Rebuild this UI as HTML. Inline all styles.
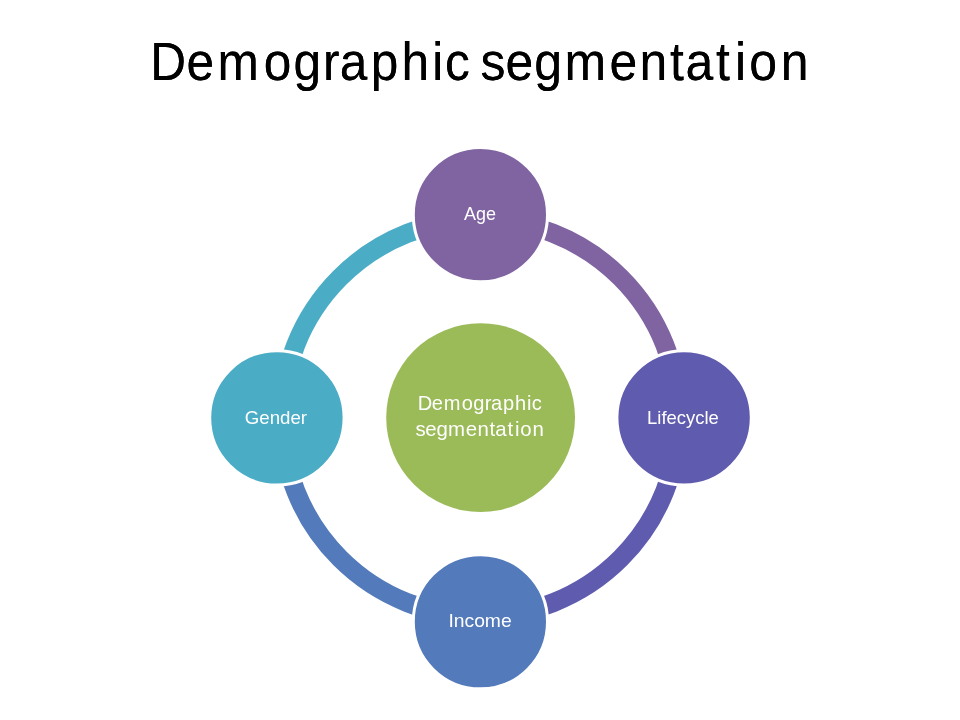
<!DOCTYPE html>
<html>
<head>
<meta charset="utf-8">
<title>Demographic segmentation</title>
<style>
html,body{margin:0;padding:0;background:#fff;}
body{width:960px;height:720px;overflow:hidden;font-family:"Liberation Sans",sans-serif;}
svg{display:block;position:absolute;left:0;top:0;}
text{font-family:"Liberation Sans",sans-serif;}
</style>
</head>
<body>
<svg width="960" height="720" viewBox="0 0 960 720">
  <rect width="960" height="720" fill="#ffffff"/>
  <!-- ring arcs (quarter each), drawn as thick strokes -->
  <g fill="none" stroke-width="19">
    <path d="M480.3 219.5 A198.5 198.5 0 0 1 678.8 418" stroke="#8064A2"/>
    <path d="M678.8 418 A198.5 198.5 0 0 1 480.3 616.5" stroke="#5F5BAE"/>
    <path d="M480.3 616.5 A198.5 198.5 0 0 1 281.8 418" stroke="#537ABA"/>
    <path d="M281.8 418 A198.5 198.5 0 0 1 480.3 219.5" stroke="#4BACC6"/>
  </g>
  <!-- nodes -->
  <g stroke="#ffffff" stroke-width="3">
    <circle cx="480.4" cy="214.7" r="67.1" fill="#8064A2"/>
    <circle cx="684.1" cy="417.85" r="67.2" fill="#5F5BAE"/>
    <circle cx="480.4" cy="621.75" r="67.1" fill="#537ABA"/>
    <circle cx="276.9" cy="417.85" r="67.2" fill="#4BACC6"/>
  </g>
  <circle cx="480.6" cy="417.6" r="94.4" fill="#9BBB59"/>
</svg>
<svg id="labels" width="960" height="720" viewBox="0 0 960 720" style="will-change:transform">
  <defs>
    <filter id="hb" x="-2%" y="-20%" width="104%" height="140%" color-interpolation-filters="sRGB">
      <feOffset in="SourceGraphic" dx="0.5" dy="0" result="a"/>
      <feOffset in="SourceGraphic" dx="-0.5" dy="0" result="b"/>
      <feMerge><feMergeNode in="a"/><feMergeNode in="b"/></feMerge>
    </filter>
  </defs>
  <text transform="scale(0.9251,1)" x="162.37 201.68 235.13 285.08 317.30 349.18 367.18 400.69 434.09 467.20 481.06" y="80.05" font-size="53.6" fill="#000000" filter="url(#hb)">Demographic</text>
  <text transform="scale(0.9321,1)" x="515.61 542.42 573.30 605.72 653.81 686.06 718.94 735.36 768.29 788.65 803.93 837.61" y="80.05" font-size="53.6" fill="#000000" filter="url(#hb)">segmentation</text>
  <text x="464.10" y="219.70" font-size="18.6" fill="#ffffff" textLength="32.00" lengthAdjust="spacingAndGlyphs">Age</text>
  <text x="647.05" y="423.60" font-size="18.6" fill="#ffffff" textLength="71.75" lengthAdjust="spacingAndGlyphs">Lifecycle</text>
  <text x="448.40" y="626.70" font-size="18.6" fill="#ffffff" textLength="63.30" lengthAdjust="spacingAndGlyphs">Income</text>
  <text x="244.80" y="423.65" font-size="18.6" fill="#ffffff" textLength="62.20" lengthAdjust="spacingAndGlyphs">Gender</text>
  <text transform="scale(0.9935,1)" x="420.39 434.64 446.57 464.69 476.32 487.87 494.26 506.34 518.39 530.47 535.33" y="410.40" font-size="20.2" fill="#ffffff">Demographic</text>
  <text transform="scale(1.0115,1)" x="410.80 420.41 431.52 443.03 460.45 472.04 483.98 489.74 501.72 509.07 514.41 526.51" y="435.60" font-size="20.2" fill="#ffffff">segmentation</text>
</svg>
</body>
</html>
